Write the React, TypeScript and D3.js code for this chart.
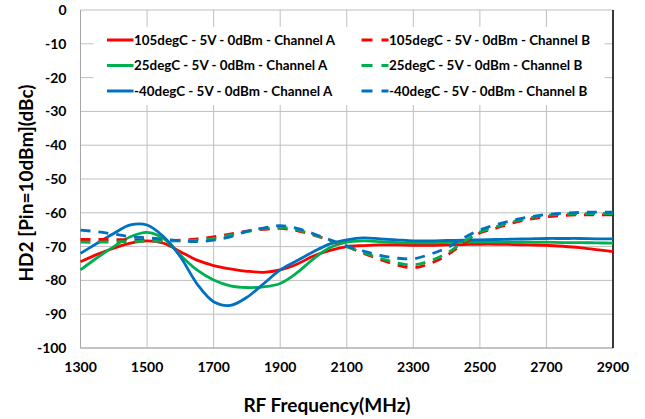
import * as d3 from 'd3'

// ── data ─────────────────────────────────────────────────────────────────────
const FREQ = d3.range(1300, 2901, 50)

const HOT_A  = [-74.5, -72.3, -70.5, -69.0, -68.3, -69.0, -71.5, -74.0, -75.6, -76.6, -77.3, -77.6, -76.9, -75.2, -72.8, -71.1, -70.0,
                -69.7, -69.5, -69.5, -69.6, -69.6, -69.5, -69.4, -69.3, -69.3, -69.4, -69.5, -69.6, -69.9, -70.3, -70.9, -71.5]
const ROOM_A = [-76.9, -73.3, -70.0, -67.1, -65.8, -67.6, -72.5, -76.9, -79.9, -81.6, -82.1, -81.9, -80.9, -77.8, -73.6, -70.3, -68.7,
                -68.3, -68.5, -68.8, -68.9, -68.9, -68.8, -68.7, -68.7, -68.7, -68.7, -68.7, -68.7, -68.8, -68.8, -68.9, -69.0]
const COLD_A = [-72.0, -69.0, -66.1, -63.6, -63.6, -67.1, -73.0, -81.0, -86.3, -87.4, -85.0, -81.0, -76.9, -74.2, -71.5, -69.2, -68.0,
                -67.4, -67.7, -68.0, -68.3, -68.3, -68.2, -68.1, -68.0, -67.9, -67.8, -67.7, -67.6, -67.6, -67.6, -67.7, -67.7]
const HOT_B  = [-67.9, -67.9, -67.9, -68.0, -68.1, -68.2, -68.1, -67.7, -67.1, -66.3, -65.4, -64.9, -64.6, -65.3, -66.6, -68.2, -70.0,
                -72.0, -73.8, -75.4, -76.3, -75.0, -72.6, -69.2, -66.0, -64.5, -63.0, -61.9, -61.2, -60.8, -60.6, -60.6, -60.6]
const ROOM_B = [-68.7, -68.7, -68.6, -68.5, -68.4, -68.4, -68.3, -68.1, -67.6, -66.6, -65.6, -64.7, -64.3, -65.0, -66.5, -68.2, -70.0,
                -71.8, -73.4, -74.8, -75.4, -74.2, -72.0, -68.7, -65.7, -64.1, -62.6, -61.5, -60.8, -60.4, -60.3, -60.2, -60.2]
const COLD_B = [-65.1, -65.6, -66.3, -67.1, -67.4, -67.8, -68.3, -68.5, -68.1, -67.1, -65.5, -64.5, -63.8, -64.6, -66.2, -68.0, -69.8,
                -71.3, -72.6, -73.4, -73.6, -72.3, -70.4, -67.5, -65.1, -63.5, -62.2, -61.2, -60.5, -60.1, -59.9, -59.8, -59.8]

const X_TICKS = [1300, 1500, 1700, 1900, 2100, 2300, 2500, 2700, 2900]
const Y_TICKS = [0, -10, -20, -30, -40, -50, -60, -70, -80, -90, -100]

const LABEL_A = ['105degC - 5V - 0dBm - Channel A', '25degC - 5V - 0dBm - Channel A', '-40degC - 5V - 0dBm - Channel A']
const LABEL_B = ['105degC - 5V - 0dBm - Channel B', '25degC - 5V - 0dBm - Channel B', '-40degC - 5V - 0dBm - Channel B']

// ── constants ────────────────────────────────────────────────────────────────
const W = 645
const H = 419
const M = { top: 10, right: 32, bottom: 71, left: 80.5 }
const C_RED   = '#FF0000'
const C_GREEN = '#00B050'
const C_BLUE  = '#0070C0'
const CGRID   = '#BFBFBF'
const FONT    = 'Lato, "Open Sans", sans-serif'
const DASH    = '10,8'

const COLORS = [C_RED, C_GREEN, C_BLUE]

const series = [
  { vals: HOT_A,  col: C_RED,   dashed: false },
  { vals: ROOM_A, col: C_GREEN, dashed: false },
  { vals: COLD_A, col: C_BLUE,  dashed: false },
  { vals: HOT_B,  col: C_RED,   dashed: true },
  { vals: ROOM_B, col: C_GREEN, dashed: true },
  { vals: COLD_B, col: C_BLUE,  dashed: true },
]

export default function App() {
  const iW = W - M.left - M.right
  const iH = H - M.top - M.bottom

  const x = d3.scaleLinear().domain([1300, 2900]).range([0, iW])
  const y = d3.scaleLinear().domain([-100, 0]).range([iH, 0])

  const line = d3.line<number>()
    .x((_, i) => x(FREQ[i]))
    .y(v => y(v))
    .curve(d3.curveCatmullRom.alpha(0.5))

  // legend box (in plot coords)
  const LG = { x0: 13, x1: 524, y0: 17, y1: 95 }
  const rowY = (i: number) => 30 + i * 25.5

  return (
    <div style={{ position: 'absolute', left: 0, top: 0 }}>
      <svg width={W} height={H} style={{ display: 'block', fontFamily: FONT }}>
        <rect width={W} height={H} fill="#fff" />
        <g transform={`translate(${M.left},${M.top})`}>
          {/* ── grid ── */}
          {Y_TICKS.map(v => (
            <line key={'h' + v} x1={0} x2={iW} y1={y(v)} y2={y(v)} stroke={CGRID} strokeWidth={1} />
          ))}
          {X_TICKS.map(v => (
            <line key={'v' + v} x1={x(v)} x2={x(v)} y1={0} y2={iH} stroke={CGRID} strokeWidth={1} />
          ))}
          <line x1={0} x2={0} y1={0} y2={iH} stroke="#A6A6A6" strokeWidth={1} />
          <line x1={0} x2={iW} y1={iH} y2={iH} stroke="#A6A6A6" strokeWidth={1} />
          <line x1={iW} x2={iW} y1={0} y2={iH} stroke="#000" strokeWidth={1.5} />

          {/* ── series ── */}
          {series.map((s, i) => (
            <path
              key={i}
              d={line(s.vals) ?? ''}
              fill="none"
              stroke={s.col}
              strokeWidth={2.8}
              strokeDasharray={s.dashed ? DASH : undefined}
              strokeLinejoin="round"
            />
          ))}

          {/* ── legend ── */}
          <rect x={LG.x0} y={LG.y0} width={LG.x1 - LG.x0} height={LG.y1 - LG.y0} fill="#fff" />
          {LABEL_A.map((t, i) => (
            <g key={'la' + i}>
              <line x1={26.5} x2={53} y1={rowY(i)} y2={rowY(i)} stroke={COLORS[i]} strokeWidth={3} />
              <text x={53.5} y={rowY(i)} dy="0.36em" fontSize={13.4} fontWeight={700} fill="#000">{t}</text>
            </g>
          ))}
          {LABEL_B.map((t, i) => (
            <g key={'lb' + i}>
              <line x1={281} x2={308} y1={rowY(i)} y2={rowY(i)} stroke={COLORS[i]} strokeWidth={3} strokeDasharray="11,9" />
              <text x={308.5} y={rowY(i)} dy="0.36em" fontSize={13.4} fontWeight={700} fill="#000">{t}</text>
            </g>
          ))}

          {/* ── tick labels ── */}
          {Y_TICKS.map(v => (
            <text key={'yl' + v} x={-14} y={y(v)} dy="0.36em" textAnchor="end" fontSize={14} fontWeight={700} fill="#000">{v}</text>
          ))}
          {X_TICKS.map(v => (
            <text key={'xl' + v} x={x(v)} y={iH + 19} dy="0.36em" textAnchor="middle" fontSize={14} fontWeight={700} fill="#000">{v}</text>
          ))}
        </g>

        {/* ── axis titles ── */}
        <text x={327} y={412} textAnchor="middle" fontSize={19} fontWeight={700} fill="#000">RF Frequency(MHz)</text>
        <text transform="translate(33,183) rotate(-90)" textAnchor="middle" fontSize={19} fontWeight={700} fill="#000">HD2 [Pin=10dBm](dBc)</text>
      </svg>
    </div>
  )
}
